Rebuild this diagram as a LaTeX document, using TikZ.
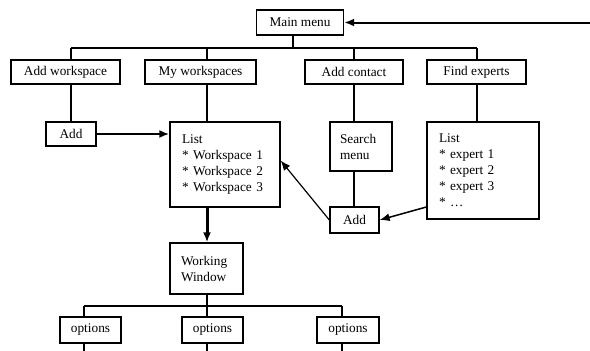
\documentclass[tikz,border=0pt]{standalone}
\usepackage{fontspec}
\setmainfont{Liberation Serif}
\usetikzlibrary{arrows.meta,positioning,calc}
\newcommand\boxfont{\fontsize{13.3}{16}\selectfont}

\begin{document}
\begin{tikzpicture}[x=1pt,y=-1pt,>={Latex[length=10pt,width=8pt]},line width=1.2pt,
    box/.style={rectangle,draw,line width=1.3pt,inner sep=0pt,font=\boxfont,align=center},
    notebox/.style={box,align=left,inner xsep=#1,inner ysep=0pt},
  ]
  \useasboundingbox (0,0) rectangle (590,351);
  % top level
  \node[box,minimum width=87pt,minimum height=25pt] (main) at (300,22.5) {Main menu};
  \coordinate (start) at (590,22.5);
  \draw[->,line width=2pt] (start) -- (main.east);

  % second row
  \node[box,minimum width=109pt,minimum height=24pt] (addws)  at (65.5,72)  {Add workspace};
  \node[box,minimum width=111pt,minimum height=24pt] (myws)   at (200.5,72) {My workspaces};
  \node[box,minimum width=98pt,minimum height=24pt]  (addct)  at (354,72)   {Add contact};
  \node[box,minimum width=99pt,minimum height=24pt]  (findex) at (476.5,72) {Find experts};

  % third row
  \node[box,minimum width=50pt,minimum height=24pt] (addl) at (71,134) {Add};
  \node[notebox=12pt,text width=86pt,minimum height=85pt] (listws) at (225,164.5)
    {List\\{*} Workspace 1\\{*} Workspace 2\\{*} Workspace 3};
  \node[notebox=10pt,text width=42pt,minimum height=49pt] (search) at (361,146.5)
    {Search\\menu};
  \node[notebox=12pt,text width=88pt,minimum height=97pt] (listex) at (483,170.5)
    {List\\{*} expert 1\\{*} expert 2\\{*} expert 3\\{*} …};
  \node[box,minimum width=49pt,minimum height=26pt] (addr) at (354.5,220) {Add};

  % working window and options
  \node[notebox=11pt,text width=51pt,minimum height=51pt] (work) at (206.5,268.5)
    {Working\\Window};
  \node[box,minimum width=61pt,minimum height=26pt] (opt1) at (90.5,330) {options};
  \node[box,minimum width=61pt,minimum height=26pt] (opt2) at (212.5,330) {options};
  \node[box,minimum width=62pt,minimum height=26pt] (opt3) at (348,330) {options};

  % bus junctions
  \coordinate (jm) at (293,48);
  \coordinate (ja) at (71,48);
  \coordinate (jb) at (207,48);
  \coordinate (jc) at (354,48);
  \coordinate (jd) at (477,48);
  \coordinate (ka) at (84,306);
  \coordinate (kb) at (207,306);
  \coordinate (kc) at (342,306);
  \coordinate (bot) at (0,351);

  \draw (jm |- main.south) -- (jm);
  \draw (ja) -- (jd);
  \foreach \j/\n in {ja/addws,jb/myws,jc/addct,jd/findex}
    \draw (\j) -- (\j |- \n.north);
  \draw (ja |- addws.south) -- (ja |- addl.north);
  \draw (jb |- myws.south) -- (jb |- listws.north);
  \draw (jc |- addct.south) -- (jc |- search.north);
  \draw (jd |- findex.south) -- (jd |- listex.north);
  \draw (jc |- search.south) -- (jc |- addr.north);

  \draw[->,line width=2pt] (addl.east) -- (listws.west |- addl.east);
  \draw[->,line width=3pt] (jb |- listws.south) -- (jb |- work.north);
  \draw[->,line width=1.5pt] ([yshift=-36.5pt]listex.west) -- (addr.east);
  \draw[->,line width=1.2pt] (addr.west) -- ([yshift=4pt]listws.east);

  \draw (kb |- work.south) -- (kb);
  \draw (ka) -- (kc);
  \foreach \k/\n in {ka/opt1,kb/opt2,kc/opt3}{
    \draw (\k) -- (\k |- \n.north);
    \draw (\k |- \n.south) -- (\k |- bot);
  }
\end{tikzpicture}
\end{document}
